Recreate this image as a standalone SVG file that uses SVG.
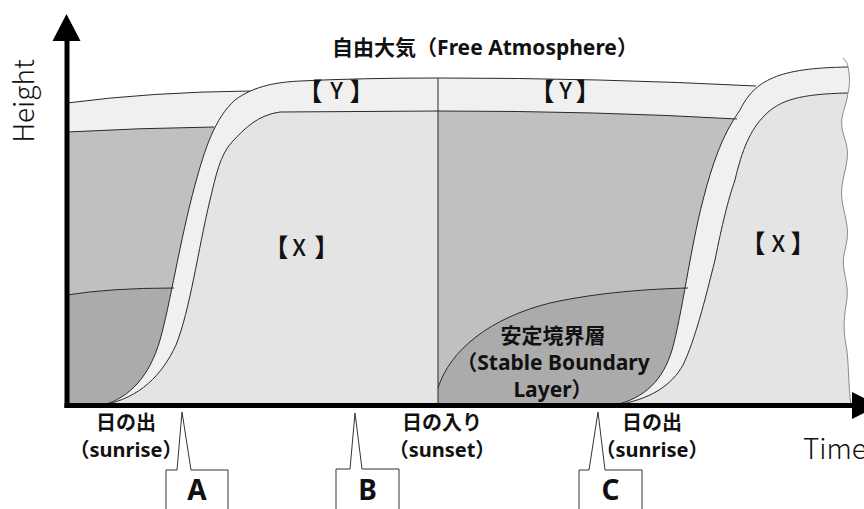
<svg xmlns="http://www.w3.org/2000/svg" width="864" height="509" viewBox="0 0 864 509">
<style>
.y{fill:#f0f0f0}
.x{fill:#e4e4e4}
.d{fill:#c0c0c0}
.s{fill:#ababab}
.ln{fill:none;stroke:#2a2a2a;stroke-width:1}
.wv{fill:none;stroke:#8a8a8a;stroke-width:1}
.lb{font-family:"Noto Sans","Noto Sans CJK JP",sans-serif;font-weight:700;fill:#111;text-anchor:middle}
.xy{font-family:"Noto Sans CJK JP","Noto Sans",sans-serif;font-weight:500;font-size:23px;fill:#111;text-anchor:middle}
.bo{font-family:"Noto Sans CJK JP",sans-serif;font-weight:700;font-size:25px;fill:#111;text-anchor:end}
.bc{font-family:"Noto Sans CJK JP",sans-serif;font-weight:700;font-size:25px;fill:#111;text-anchor:start}
.ax{font-family:"Noto Sans CJK JP","Noto Sans",sans-serif;font-weight:300;fill:#111}
.co{fill:#fff;stroke:#333;stroke-width:1}
.cl{font-family:"Noto Sans","Liberation Sans",sans-serif;font-weight:700;font-size:28px;fill:#111;text-anchor:middle}
</style>

<g id="regions">
  <path class="y" d="M67,103 Q150,92 250,91 L262,91 L262,140 L67,140 Z"/>
  <path class="d" d="M67,132 Q140,128 215,127 L240,127 L240,405 L67,405 Z"/>
  <path class="s" d="M67,295 Q110,288 175,288 L200,288 L200,405 L67,405 Z"/>
  <path class="y" d="M103,405 C130,398 150,375 160,340 C170,305 180,240 195,185 C205,148 215,118 235,100 C255,85 280,82 300,81 Q360,78 438,78 L438,405 Z"/>
  <path class="x" d="M103,405 C140,398 162,375 176,345 C190,310 198,250 210,200 C216,175 220,155 232,142 C245,128 258,115 280,112 L438,111 L438,405 Z"/>
  <path class="y" d="M438,78 Q600,78 756,86 L762,86 L762,130 L438,130 Z"/>
  <path class="d" d="M438,111 Q600,111 740,119 L762,119 L762,405 L438,405 Z"/>
  <path class="s" d="M438,388 C450,350 490,318 550,303 C600,292 650,289 700,287 L720,287 L720,405 L438,405 Z"/>
  <path class="y" d="M615,405 C645,398 663,380 672,350 C682,315 690,250 703,200 C712,165 722,135 740,110 C755,80 778,68 848,67 C850,76 850,85 848,93 C846,108 840,115 842,128 C844,140 849,145 847,160 C845,175 840,185 842,200 C844,215 849,225 847,240 C845,252 842,258 844,270 C846,282 849,290 846,305 C844,318 843,330 846,345 C849,360 848,385 851,405 Z"/>
  <path class="x" d="M615,405 C650,400 672,385 683,365 C695,340 705,300 715,260 C722,225 728,200 735,180 C742,150 750,130 765,115 C780,100 800,94 848,93 C846,108 840,115 842,128 C844,140 849,145 847,160 C845,175 840,185 842,200 C844,215 849,225 847,240 C845,252 842,258 844,270 C846,282 849,290 846,305 C844,318 843,330 846,345 C849,360 848,385 851,405 Z"/>
</g>

<g id="boundaries">
  <path class="ln" d="M67,103 Q150,92 250,91"/>
  <path class="ln" d="M67,132 Q140,128 214,127"/>
  <path class="ln" d="M67,295 Q110,288 174,288"/>
  <path class="ln" d="M103,405 C130,398 150,375 160,340 C170,305 180,240 195,185 C205,148 215,118 235,100 C255,85 280,82 300,81 Q360,78 438,78 Q600,78 756,86"/>
  <path class="ln" d="M103,405 C140,398 162,375 176,345 C190,310 198,250 210,200 C216,175 220,155 232,142 C245,128 258,115 280,112 L438,111 Q600,111 737,119"/>
  <path class="ln" d="M438,78 L438,405"/>
  <path class="ln" d="M438,388 C450,350 490,318 550,303 C600,292 650,289 688,288"/>
  <path class="ln" d="M615,405 C645,398 663,380 672,350 C682,315 690,250 703,200 C712,165 722,135 740,110 C755,80 778,68 848,67"/>
  <path class="ln" d="M615,405 C650,400 672,385 683,365 C695,340 705,300 715,260 C722,225 728,200 735,180 C742,150 750,130 765,115 C780,100 800,94 848,93"/>
  <path class="wv" d="M843,58 C846,61 848,64 848,67 C850,76 850,85 848,93 C846,108 840,115 842,128 C844,140 849,145 847,160 C845,175 840,185 842,200 C844,215 849,225 847,240 C845,252 842,258 844,270 C846,282 849,290 846,305 C844,318 843,330 846,345 C849,360 848,385 851,405"/>
</g>

<g id="labels">
  <text class="lb" x="485" y="55" font-size="21">自由大気（Free Atmosphere）</text>

  <g id="label-Y1">
    <text class="bo" x="322.5" y="101">【</text>
    <text class="xy" x="336.5" y="99">Y</text>
    <text class="bc" x="349.5" y="101">】</text>
  </g>
  <g id="label-Y2">
    <text class="bo" x="554.5" y="101">【</text>
    <text class="xy" x="565.5" y="99">Y</text>
    <text class="bc" x="575.5" y="101">】</text>
  </g>
  <g id="label-X1">
    <text class="bo" x="288.5" y="257">【</text>
    <text class="xy" x="299" y="256">X</text>
    <text class="bc" x="314.2" y="257">】</text>
  </g>
  <g id="label-X2">
    <text class="bo" x="765.5" y="253">【</text>
    <text class="xy" x="778.3" y="252">X</text>
    <text class="bc" x="790.5" y="253">】</text>
  </g>

  <text class="lb" x="553" y="343" font-size="21">安定境界層</text>
  <text class="lb" x="553" y="370" font-size="21">（Stable Boundary</text>
  <text class="lb" x="553" y="397" font-size="21">Layer）</text>
  <text class="lb" x="126" y="430" font-size="20">日の出</text>
  <text class="lb" x="126" y="457" font-size="20">（sunrise）</text>
  <text class="lb" x="442" y="430" font-size="20">日の入り</text>
  <text class="lb" x="442" y="457" font-size="20">（sunset）</text>
  <text class="lb" x="652" y="430" font-size="20">日の出</text>
  <text class="lb" x="652" y="457" font-size="20">（sunrise）</text>
</g>

<g id="axes">
  <rect x="64.5" y="38" width="5" height="370" fill="#000"/>
  <polygon points="52.5,41 66.5,14 80.5,41" fill="#000"/>
  <rect x="64.5" y="403" width="790" height="5" fill="#000"/>
  <polygon points="852,392 879,405.5 852,419" fill="#000"/>
  <text class="ax" x="0" y="0" font-size="28" text-anchor="middle" transform="translate(34,101) rotate(-90)">Height</text>
  <text class="ax" x="803" y="459" font-size="28">Time</text>
</g>

<g id="callout-A">
  <path class="co" d="M166,512 L166,470 L177,470 L182,412 L191,470 L228,470 L228,512"/>
  <text class="cl" x="197" y="500">A</text>
</g>
<g id="callout-B">
  <path class="co" d="M336,512 L336,469 L350,469 L355,413 L362,469 L399,469 L399,512"/>
  <text class="cl" x="367.5" y="500">B</text>
</g>
<g id="callout-C">
  <path class="co" d="M579,512 L579,470 L589,470 L598,412 L605,470 L642,470 L642,512"/>
  <text class="cl" x="610.5" y="500">C</text>
</g>
</svg>
